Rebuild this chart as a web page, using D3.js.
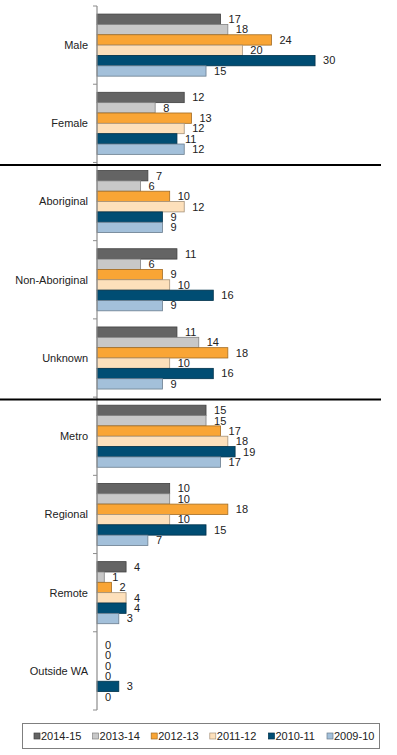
<!DOCTYPE html>
<html>
<head>
<meta charset="utf-8">
<script src="https://cdn.jsdelivr.net/npm/d3@7"></script>
<style>
  body { margin: 0; background: #fff; }
  text { font-family: "Liberation Sans", Arial, sans-serif; fill: #222; }
</style>
</head>
<body>
<svg id="chart" width="397" height="755"></svg>
<script>
var categories = ["Male", "Female", "Aboriginal", "Non-Aboriginal", "Unknown", "Metro", "Regional", "Remote", "Outside WA"];
var series = ["2014-15", "2013-14", "2012-13", "2011-12", "2010-11", "2009-10"];
var colors = ["#646464", "#c8c8c8", "#f9a535", "#fde0bb", "#004d73", "#a3c0da"];
var v2014 = [17, 12, 7, 11, 11, 15, 10, 4, 0];
var v2013 = [18, 8, 6, 6, 14, 15, 10, 1, 0];
var v2012 = [24, 13, 10, 9, 18, 17, 18, 2, 0];
var v2011 = [20, 12, 12, 10, 10, 18, 10, 4, 0];
var v2010 = [30, 11, 9, 16, 16, 19, 15, 4, 3];
var v2009 = [15, 12, 9, 9, 9, 17, 7, 3, 0];
var separators = ["Aboriginal", "Metro"];

var allValues = [v2014, v2013, v2012, v2011, v2010, v2009];

var svg = d3.select("#chart");

var y0 = d3.scaleBand().domain(categories).range([6, 710]).padding(0);
var y1 = d3.scaleBand().domain(series).range([0, y0.bandwidth()]).paddingInner(0).paddingOuter(0.78);
var x = d3.scaleLinear().domain([0, 35]).range([97, 351.4]);
var color = d3.scaleOrdinal().domain(series).range(colors);

var rows = [];
categories.forEach(function(c, i) {
  series.forEach(function(s, j) {
    rows.push({cat: c, s: s, v: allValues[j][i]});
  });
});

// bars
svg.append("g").selectAll("rect")
  .data(rows.filter(function(d) { return d.v > 0; }))
  .enter().append("rect")
  .attr("x", x(0))
  .attr("y", function(d) { return y0(d.cat) + y1(d.s); })
  .attr("width", function(d) { return x(d.v) - x(0); })
  .attr("height", y1.bandwidth())
  .attr("fill", function(d) { return color(d.s); })
  .attr("stroke", function(d) { return d3.rgb(color(d.s)).darker(1.2); })
  .attr("stroke-width", 0.8);

// value labels
svg.append("g").selectAll("text")
  .data(rows)
  .enter().append("text")
  .attr("x", function(d) { return x(d.v) + 8; })
  .attr("y", function(d) { return y0(d.cat) + y1(d.s) + y1.bandwidth() / 2; })
  .attr("dy", "0.35em")
  .attr("font-size", 11)
  .text(function(d) { return d.v; });

// axis line and ticks at group boundaries
var ax = svg.append("g");
ax.append("line")
  .attr("x1", x(0)).attr("x2", x(0))
  .attr("y1", y0.range()[0]).attr("y2", y0.range()[1])
  .attr("stroke", "#8c8c8c").attr("stroke-width", 1.2);
var bounds = categories.map(function(c) { return y0(c); }).concat([y0.range()[1]]);
ax.selectAll(".tick")
  .data(bounds)
  .enter().append("line")
  .attr("x1", x(0) - 4).attr("x2", x(0))
  .attr("y1", function(d) { return d; }).attr("y2", function(d) { return d; })
  .attr("stroke", "#8c8c8c");

// category labels
svg.append("g").selectAll("text")
  .data(categories)
  .enter().append("text")
  .attr("x", 88)
  .attr("y", function(d) { return y0(d) + y0.bandwidth() / 2; })
  .attr("dy", "0.35em")
  .attr("text-anchor", "end")
  .attr("font-size", 11)
  .text(function(d) { return d; });

// section separators
svg.append("g").selectAll("line")
  .data(separators)
  .enter().append("line")
  .attr("x1", 0).attr("x2", 381)
  .attr("y1", function(d) { return y0(d) + 2.5; })
  .attr("y2", function(d) { return y0(d) + 2.5; })
  .attr("stroke", "#000").attr("stroke-width", 2);

// legend
var legend = svg.append("g");
legend.append("rect")
  .attr("x", 22.5).attr("y", 723.5)
  .attr("width", 357).attr("height", 25)
  .attr("fill", "#fff").attr("stroke", "#7f7f7f");
var li = legend.selectAll(".item")
  .data(series)
  .enter().append("g")
  .attr("transform", function(d, i) { return "translate(" + (34 + i * 58.6) + ",736)"; });
li.append("rect")
  .attr("x", 0).attr("y", -3).attr("width", 6).attr("height", 6)
  .attr("fill", function(d) { return color(d); })
  .attr("stroke", function(d) { return d3.rgb(color(d)).darker(1.2); })
  .attr("stroke-width", 0.7);
li.append("text")
  .attr("x", 7).attr("y", 0).attr("dy", "0.35em")
  .attr("font-size", 11)
  .text(function(d) { return d; });
</script>
</body>
</html>
